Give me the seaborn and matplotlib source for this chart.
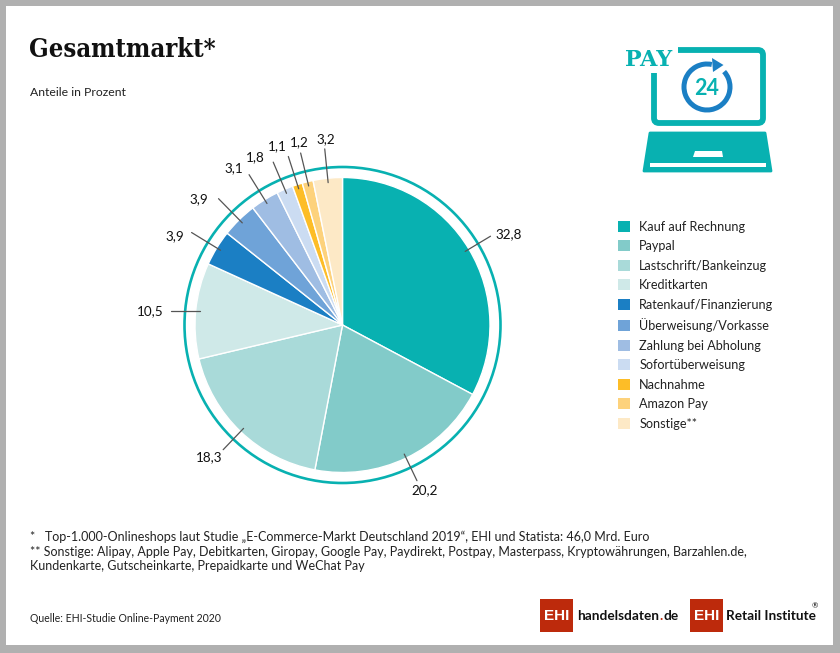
import numpy as np
import matplotlib
matplotlib.use("Agg")
import matplotlib.pyplot as plt
from matplotlib.patches import Arc, Circle, FancyBboxPatch, Polygon, Rectangle
import seaborn as sns

# data
categories = ["Kauf auf Rechnung", "Paypal", "Lastschrift/Bankeinzug", "Kreditkarten",
              "Ratenkauf/Finanzierung", "Überweisung/Vorkasse", "Zahlung bei Abholung",
              "Sofortüberweisung", "Nachnahme", "Amazon Pay", "Sonstige**"]
shares = [32.8, 20.2, 18.3, 10.5, 3.9, 3.9, 3.1, 1.8, 1.1, 1.2, 3.2]
colors = ["#08b1b1", "#82cbc9", "#a9dad9", "#cfe9e8", "#1b7fc4", "#6fa3d8",
          "#9fbde3", "#cbdcf2", "#fdbd27", "#fdd27c", "#fde9c6"]
footnotes = [
    "*   Top-1.000-Onlineshops laut Studie „E-Commerce-Markt Deutschland 2019“, EHI und Statista: 46,0 Mrd. Euro",
    "** Sonstige: Alipay, Apple Pay, Debitkarten, Giropay, Google Pay, Paydirekt, Postpay, Masterpass, Kryptowährungen, Barzahlen.de,",
    "Kundenkarte, Gutscheinkarte, Prepaidkarte und WeChat Pay",
]

# label position relative to the outer end of its leader line, in pixels
label_offsets = [(18, 2), (8, -9), (-14, -7), (-21, 0), (-16.5, -3.5), (-20, 0),
                 (-15.5, 6.5), (-18, 5), (-11, 10), (-1, 11), (1, 10)]

sns.set_theme(style="white")
plt.rcParams["font.family"] = ["Lato", "DejaVu Sans"]

TEAL = "#08b1b1"
BLUE = "#1b7fc4"
RED = "#bd2a0c"
INK = "#222222"
W, H = 840, 653
R_PIE = 147.5  # pie radius in pixels
CX, CY = 342.5, 325

fig = plt.figure(figsize=(W / 100, H / 100), dpi=100, facecolor="#b0b0b0")

# background axes in pixel coordinates
bg = fig.add_axes([0, 0, 1, 1])
bg.set_xlim(0, W)
bg.set_ylim(H, 0)
bg.axis("off")
bg.add_patch(Rectangle((6, 6), 827, 639, fc="white", ec="none"))

bg.text(29, 49.5, "Gesamtmarkt*", family="DejaVu Serif", stretch="condensed", weight="bold",
        fontsize=18.4, color="#111111", va="center", ha="left")
bg.text(30, 92, "Anteile in Prozent", fontsize=8.8, color=INK, va="center")

# pie
half = 235
ax = fig.add_axes([(CX - half) / W, (H - CY - half) / H, 2 * half / W, 2 * half / H])
ax.patch.set_alpha(0)
wedges, _ = ax.pie(shares, colors=sns.color_palette(colors), startangle=90, counterclock=False,
                   radius=1, wedgeprops={"edgecolor": "white", "linewidth": 1})
ax.set_xlim(-half / R_PIE, half / R_PIE)
ax.set_ylim(-half / R_PIE, half / R_PIE)
ax.add_patch(Circle((0, 0), 158 / R_PIE, fc="none", ec=TEAL, lw=1.9))

for w, val, off in zip(wedges, shares, label_offsets):
    ang = np.deg2rad((w.theta1 + w.theta2) / 2)
    ux, uy = np.cos(ang), np.sin(ang)
    r_out = 1.17 if val > 10 else 1.2  # big slices have a bit shorter leaders
    x0, y0 = 0.97 * ux, 0.97 * uy
    x1, y1 = r_out * ux, r_out * uy
    if abs(uy) < 0.15:  # nearly horizontal slice gets a flat leader
        y1 = y0
    ax.plot([x0, x1], [y0, y1], color="#555555", lw=0.9)
    ax.annotate(f"{val:.1f}".replace(".", ","), xy=(x1, y1), xytext=off, textcoords="offset pixels",
                ha="center", va="center", fontsize=9.7, color="#111111")

# legend
bg.legend(wedges, categories, loc="upper left", bbox_to_anchor=(612.5 / W, 1 - 215.5 / H),
          bbox_transform=fig.transFigure, frameon=False, prop={"size": 9.05},
          handlelength=1.0, handleheight=1.0, handletextpad=0.72, labelspacing=0.598,
          labelcolor=INK, borderpad=0.4, borderaxespad=0)
for h in bg.get_legend().legend_handles:
    h.set_edgecolor("none")

# footnotes
for y, line in zip([537, 552, 566], footnotes):
    bg.text(30, y, line, fontsize=9.0, color=INK, va="center")
bg.text(30, 618, "Quelle: EHI-Studie Online-Payment 2020", fontsize=7.6, color=INK, va="center")

# laptop icon
bg.add_patch(FancyBboxPatch((654, 50), 109, 73, boxstyle="round,pad=0,rounding_size=5",
                            fc="none", ec=TEAL, lw=4.2))
bg.add_patch(Rectangle((618, 40), 60, 33, fc="white", ec="none"))
bg.text(648.5, 60, "PAY", family="DejaVu Serif", weight="bold", fontsize=16,
        color=TEAL, ha="center", va="center")
bg.add_patch(Polygon([(650, 133), (765, 133), (771, 171), (644, 171)], closed=True,
                     fc=TEAL, ec=TEAL, lw=2, joinstyle="round"))
bg.add_patch(Polygon([(695, 151), (722, 151), (723, 157), (693, 157)], closed=True,
                     fc="white", ec="none"))
bg.add_patch(Rectangle((650, 163), 116, 3.5, fc="white", ec="none"))
bg.add_patch(Arc((707, 87), 46, 46, theta1=-42, theta2=282, color=BLUE, lw=3.6))
bg.add_patch(Polygon([(712, 58), (723.5, 65), (713, 72)], closed=True, fc=BLUE, ec="none"))
bg.text(707, 88.5, "24", fontsize=15.5, weight="bold", color=TEAL, ha="center", va="center")

# logos
for x in [540, 690]:
    bg.add_patch(Rectangle((x, 599), 33, 33, fc=RED, ec="none"))
    bg.text(x + 16.5, 616, "EHI", color="white", weight="bold", fontsize=11, ha="center", va="center",
            family="Liberation Sans")
fig.canvas.draw()
x = 577
for part, col in [("handelsdaten", "#111111"), (".", RED), ("de", "#111111")]:
    t = bg.text(x, 616, part, fontsize=9.85, weight="bold", color=col, va="center")
    x = t.get_window_extent(fig.canvas.get_renderer()).x1 + 0.5
bg.text(726, 616, "Retail Institute", fontsize=9.8, weight="bold", color="#111111", va="center")
bg.text(815, 606, "®", fontsize=5.5, color="#111111", va="center", ha="center")

fig.savefig("out.png", dpi=100, facecolor=fig.get_facecolor())
